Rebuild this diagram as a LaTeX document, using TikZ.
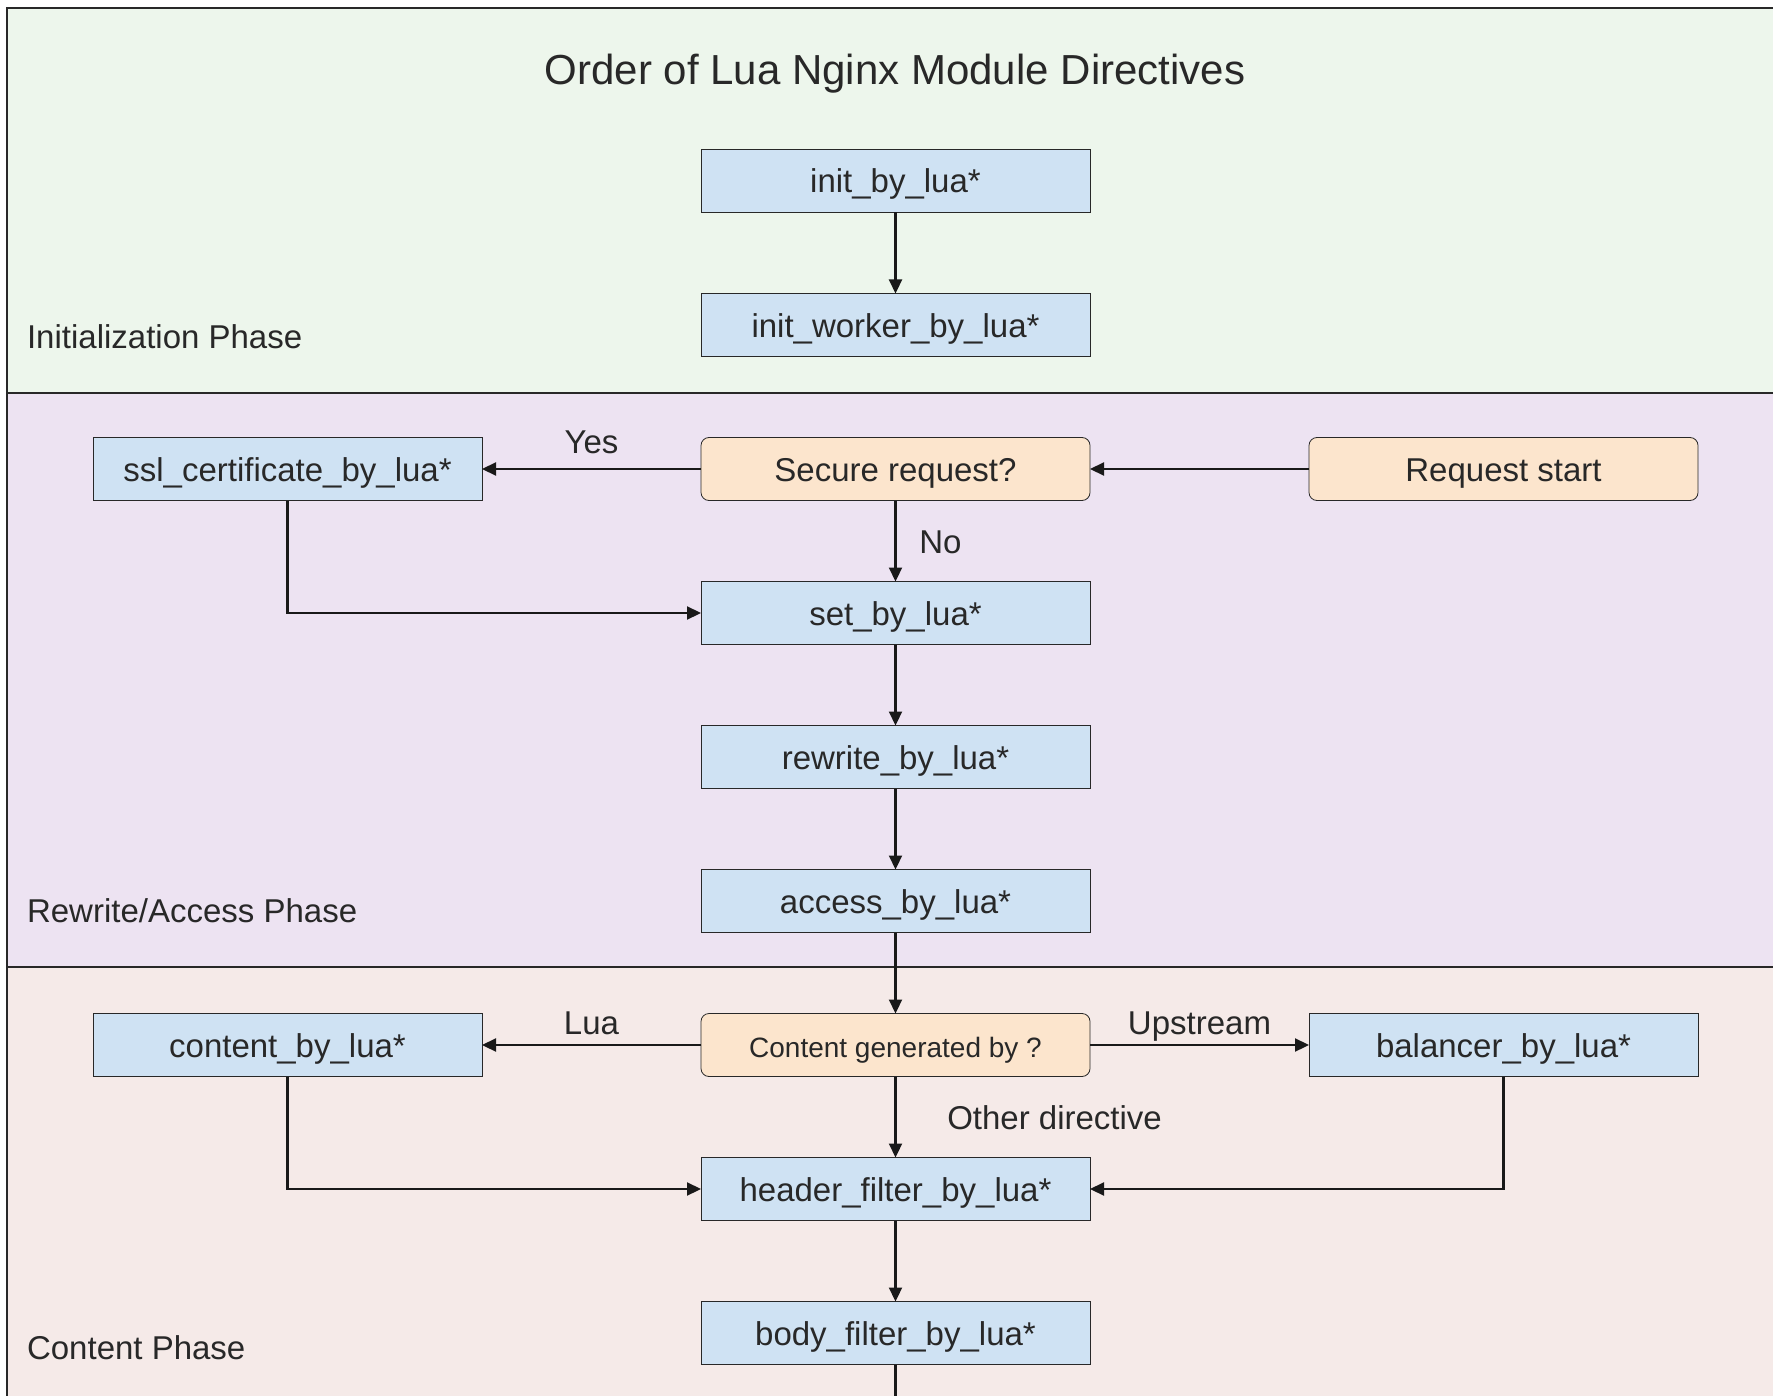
\documentclass[tikz,border=0pt]{standalone}
\usepackage{fontspec}
\setmainfont{Liberation Sans}
\usetikzlibrary{positioning, arrows.meta}

\definecolor{initbg}{RGB}{237,246,236}
\definecolor{rewritebg}{RGB}{237,227,242}
\definecolor{contentbg}{RGB}{245,234,232}
\definecolor{boxblue}{RGB}{207,226,243}
\definecolor{choiceorange}{RGB}{252,229,205}
\definecolor{inkgray}{RGB}{40,40,40}

\begin{document}
\begin{tikzpicture}[
        x=0.5pt, y=-0.5pt,
        node distance=40.5pt and 109.5pt,
        phase/.style={draw=inkgray, line width=0.8pt},
        box/.style={draw=inkgray, rectangle, minimum width=194.5pt, minimum height=31.5pt, inner sep=0pt, outer sep=0pt, text height=12pt, text depth=0pt, align=center, fill=boxblue, text=inkgray, font=\fontsize{16.5}{19}\selectfont},
        choice/.style={box, rounded corners=4pt, fill=choiceorange},
        tag/.style={text=inkgray, font=\fontsize{16.5}{19}\selectfont},
        flowtag/.style={tag, text height=12pt, text depth=0pt},
        arrow/.style={->, >={Triangle[length=7pt, width=6.5pt]}, line width=1.1pt, draw=black!90}
    ]
        \useasboundingbox (0,0) rectangle (1773,1396);
        \clip (0,0) rectangle (1773,1396);
        % phase bands
        \filldraw[phase, fill=initbg] (7,8) rectangle (1800,393);
        \filldraw[phase, fill=rewritebg] (7,393) rectangle (1800,967);
        \filldraw[phase, fill=contentbg] (7,967) rectangle (1800,1420);
        \node[tag, font=\fontsize{21}{25}\selectfont] (title) at (895,74) {Order of Lua Nginx Module Directives};
        \node[tag, anchor=west] (initphase) at (20,337) {Initialization Phase};
        \node[tag, anchor=west] (rewritephase) at (20,911) {Rewrite/Access Phase};
        \node[tag, anchor=west] (contentphase) at (20,1348) {Content Phase};
        % directives
        \node[box] (initlua) at (895.5,181) {init\_by\_lua*};
        \node[box, below=of initlua] (initworker) {init\_worker\_by\_lua*};
        \node[choice, below=of initworker] (secure) {Secure request?};
        \node[box, left=of secure] (sslcert) {ssl\_certificate\_by\_lua*};
        \node[choice, right=of secure] (reqstart) {Request start};
        \node[box, below=of secure] (setlua) {set\_by\_lua*};
        \node[box, below=of setlua] (rewritelua) {rewrite\_by\_lua*};
        \node[box, below=of rewritelua] (accesslua) {access\_by\_lua*};
        \node[choice, below=of accesslua, font=\fontsize{14}{17}\selectfont] (contentgen) {Content generated by ?};
        \node[box, left=of contentgen] (contentlua) {content\_by\_lua*};
        \node[box, right=of contentgen] (balancer) {balancer\_by\_lua*};
        \node[box, below=of contentgen] (headerlua) {header\_filter\_by\_lua*};
        \node[box, below=of headerlua] (bodylua) {body\_filter\_by\_lua*};
        \coordinate (exit) at (895.5,1400);
        % flow
        \draw[arrow] (initlua) -- (initworker);
        \draw[arrow] (reqstart) -- (secure);
        \draw[arrow] (secure) -- node[flowtag, above=3.8pt] {Yes} (sslcert);
        \draw[arrow] (secure) -- node[flowtag, right=8pt] {No} (setlua);
        \draw[arrow] (sslcert) |- (setlua);
        \draw[arrow] (setlua) -- (rewritelua);
        \draw[arrow] (rewritelua) -- (accesslua);
        \draw[arrow] (accesslua) -- (contentgen);
        \draw[arrow] (contentgen) -- node[flowtag, above=1.2pt] {Lua} (contentlua);
        \draw[arrow] (contentgen) -- node[flowtag, above=1.2pt] {Upstream} (balancer);
        \draw[arrow] (contentgen) -- node[flowtag, right=22pt] {Other directive} (headerlua);
        \draw[arrow] (contentlua) |- (headerlua);
        \draw[arrow] (balancer) |- (headerlua);
        \draw[arrow] (headerlua) -- (bodylua);
        \draw[line width=1.1pt, draw=black!90] (bodylua) -- (exit);
    \end{tikzpicture}
\end{document}
